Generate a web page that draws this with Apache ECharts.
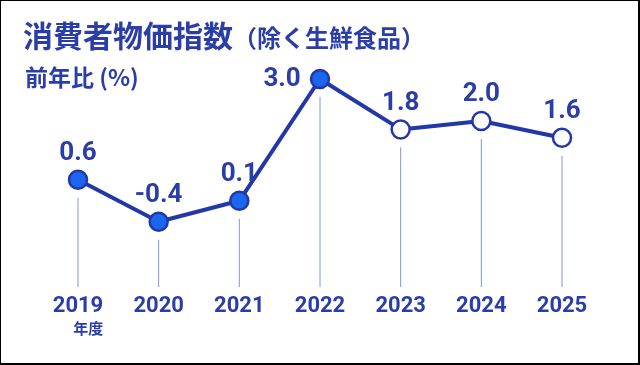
<!DOCTYPE html>
<html><head><meta charset="utf-8">
<script src="https://cdn.jsdelivr.net/npm/echarts@6/dist/echarts.min.js"></script>
<style>
html,body{margin:0;padding:0;background:#fff;}
#c{width:640px;height:365px;box-sizing:border-box;border-left:1px solid #000;border-top:1px solid #000;border-right:2px solid #000;border-bottom:2px solid #000;}
</style></head>
<body><div id="c"></div>
<script>
const categories = ['2019','2020','2021','2022','2023','2024','2025'];
const values = [0.6, -0.4, 0.1, 3.0, 1.8, 2.0, 1.6];
const forecast = [false, false, false, false, true, true, true];
const titleMain = '消費者物価指数';
const titleSub = '（除く生鮮食品）';
const unitLabel = '前年比 (%)';
const yearSuffix = '年度';

const DARK = '#2338a8';
const TEXT = '#2a3da9';
const FILL = '#1a66ee';
const DROP = '#8196da';
const Y_MIN = -2, Y_MAX = 3.5;

const chart = echarts.init(document.getElementById('c'), null, {renderer:'canvas'});
chart.setOption({
  animation:false,
  backgroundColor:'#fff',
  title:[{
    left:17, top:15,
    text:'{a|'+titleMain+'}{b|'+titleSub+'}',
    textStyle:{rich:{
      a:{fontFamily:'Noto Sans CJK JP',fontWeight:'bold',fontSize:30,color:TEXT},
      b:{fontFamily:'Noto Sans CJK JP',fontWeight:'bold',fontSize:24,color:TEXT,padding:[3,0,0,0]}
    }}
  },{
    left:19, top:60,
    text:unitLabel,
    textStyle:{fontFamily:'Noto Sans CJK JP',fontWeight:'bold',fontSize:23,color:TEXT}
  }],
  grid:{left:77, width:484, top:57, height:231, containLabel:false},
  xAxis:{
    type:'category', data:categories, boundaryGap:false,
    axisLine:{show:false}, axisTick:{show:false}, splitLine:{show:false},
    axisLabel:{
      margin:5,
      formatter:(v,i)=> i===0 ? '{y|'+v+'}\n{n|'+yearSuffix+'}' : '{y|'+v+'}',
      rich:{
        y:{fontFamily:'Roboto',fontWeight:'bold',fontSize:22,color:TEXT,lineHeight:25},
        n:{fontFamily:'Noto Sans CJK JP',fontWeight:'bold',fontSize:15,color:TEXT,lineHeight:19,align:'right'}
      }
    }
  },
  yAxis:{type:'value',min:Y_MIN,max:Y_MAX,show:false,splitLine:{show:false}},
  series:[{
    type:'custom',
    data:values.map((v,i)=>[i,v]),
    z:1,
    renderItem:(params,api)=>{
      const top = api.coord([api.value(0), api.value(1)]);
      const bot = api.coord([api.value(0), Y_MIN]);
      return {type:'line',shape:{x1:top[0],y1:top[1]+18,x2:bot[0],y2:bot[1]-2},
        style:{stroke:DROP,lineWidth:1}};
    }
  },{
    type:'line',
    z:3,
    data:values.map((v,i)=>({
      value:v,
      itemStyle:{color: forecast[i] ? '#fff' : FILL, borderColor:DARK, borderWidth:2.5},
      label: i===3 ? {position:'left',distance:9} : {}
    })),
    symbol:'circle', symbolSize:18,
    lineStyle:{color:DARK,width:4},
    label:{show:true,position:'top',distance:3,
      fontFamily:'Roboto',fontWeight:'bold',fontSize:26,color:TEXT,
      formatter:p=>p.value.toFixed(1)}
  }]
});
</script></body></html>
